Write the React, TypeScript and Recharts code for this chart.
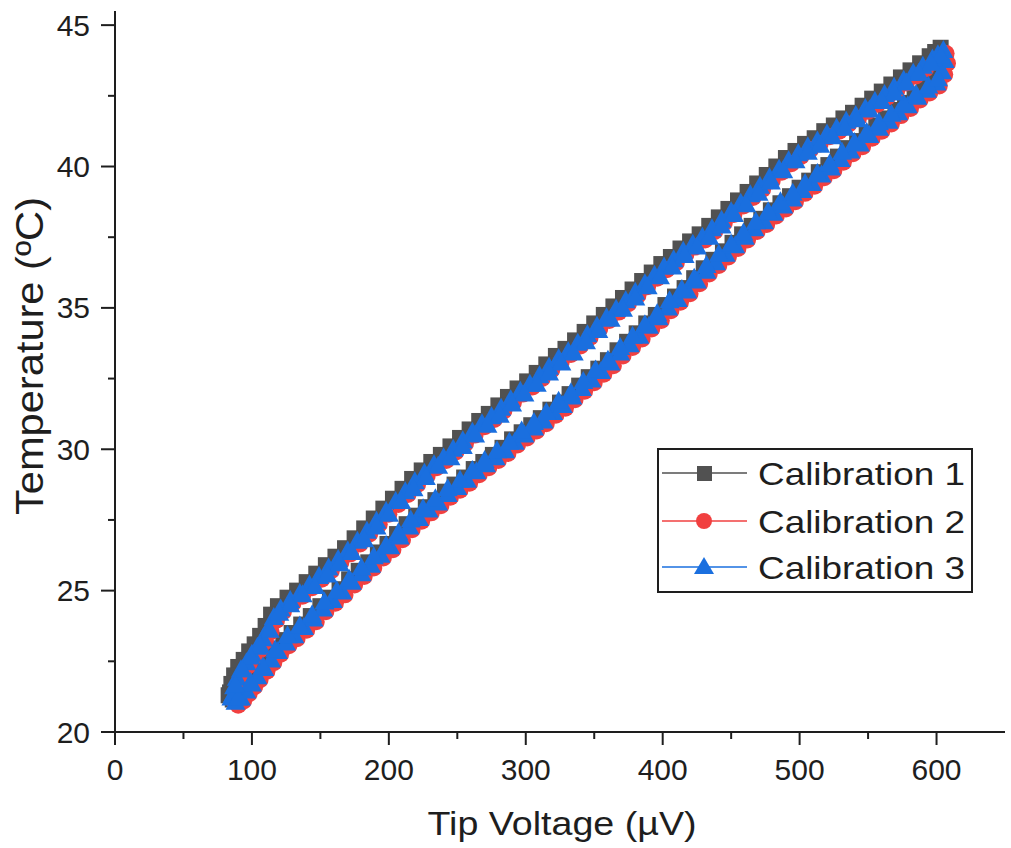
import { ScatterChart, Scatter, XAxis, YAxis, Legend } from 'recharts'

// readings as [tip voltage µV, temperature ºC], loop: heating branch up, cooling branch back down
const cal1: [number, number][] = [
  [83, 21.3], [86, 21.15], [90, 21.3], [94, 21.55], [98, 21.8], [102, 22.05], [107, 22.35], [112, 22.65], [117, 22.95], [123, 23.25],
  [129, 23.5], [136, 23.8], [143, 24.1], [150, 24.45], [157, 24.75], [164, 25.05], [171, 25.4], [178, 25.7], [185, 26.0], [192, 26.35],
  [199, 26.65], [206, 27.0], [213, 27.35], [220, 27.65], [227, 27.95], [234, 28.2], [241, 28.5], [248, 28.75], [255, 29.0], [262, 29.3],
  [269, 29.55], [276, 29.8], [283, 30.05], [290, 30.35], [297, 30.6], [304, 30.85], [311, 31.1], [318, 31.4], [325, 31.65], [332, 31.95],
  [339, 32.25], [346, 32.55], [353, 32.85], [360, 33.15], [367, 33.5], [374, 33.8], [381, 34.1], [388, 34.45], [395, 34.75], [402, 35.1],
  [409, 35.4], [416, 35.7], [423, 36.05], [430, 36.4], [437, 36.7], [444, 37.0], [451, 37.3], [458, 37.6], [465, 37.9], [472, 38.15],
  [479, 38.45], [486, 38.7], [493, 38.95], [500, 39.25], [507, 39.5], [514, 39.8], [521, 40.05], [528, 40.35], [535, 40.65], [542, 40.9],
  [549, 41.2], [556, 41.45], [563, 41.7], [570, 42.0], [577, 42.25], [584, 42.55], [591, 42.8], [598, 43.05], [602, 43.45], [604, 43.85],
  [603, 44.2], [599, 44.05], [595, 43.9], [588, 43.65], [581, 43.4], [574, 43.15], [567, 42.9], [560, 42.65], [553, 42.4], [546, 42.15],
  [539, 41.9], [532, 41.7], [525, 41.45], [518, 41.25], [511, 41.0], [504, 40.8], [497, 40.55], [490, 40.3], [483, 40.0], [476, 39.7],
  [469, 39.4], [462, 39.1], [455, 38.8], [448, 38.5], [441, 38.2], [434, 37.9], [427, 37.6], [420, 37.35], [413, 37.1], [406, 36.8],
  [399, 36.55], [392, 36.25], [385, 35.95], [378, 35.65], [371, 35.35], [364, 35.05], [357, 34.75], [350, 34.45], [343, 34.15], [336, 33.85],
  [329, 33.55], [322, 33.3], [315, 33.0], [308, 32.7], [301, 32.4], [294, 32.15], [287, 31.85], [280, 31.55], [273, 31.25], [266, 31.0],
  [259, 30.7], [252, 30.4], [245, 30.1], [238, 29.8], [231, 29.55], [224, 29.25], [217, 28.95], [210, 28.6], [203, 28.25], [196, 27.9],
  [189, 27.55], [182, 27.2], [175, 26.85], [168, 26.5], [161, 26.2], [154, 25.9], [147, 25.6], [140, 25.3], [133, 25.0], [126, 24.75],
  [119, 24.45], [114, 24.15], [110, 23.75], [106, 23.4], [102, 23.1], [98, 22.85], [94, 22.55], [90, 22.3], [87, 22.0], [85, 21.7], [84, 21.4],
]

const cal2: [number, number][] = [
  [87, 21.1], [90, 20.95], [94, 21.1], [98, 21.35], [102, 21.6], [106, 21.85], [111, 22.15], [116, 22.45], [121, 22.75], [127, 23.05],
  [133, 23.3], [140, 23.6], [147, 23.9], [154, 24.25], [161, 24.55], [168, 24.85], [175, 25.2], [182, 25.5], [189, 25.8], [196, 26.15],
  [203, 26.45], [210, 26.8], [217, 27.15], [224, 27.45], [231, 27.75], [238, 28.0], [245, 28.3], [252, 28.55], [259, 28.8], [266, 29.1],
  [273, 29.35], [280, 29.6], [287, 29.85], [294, 30.15], [301, 30.4], [308, 30.65], [315, 30.9], [322, 31.2], [329, 31.45], [336, 31.75],
  [343, 32.05], [350, 32.35], [357, 32.65], [364, 32.95], [371, 33.3], [378, 33.6], [385, 33.9], [392, 34.25], [399, 34.55], [406, 34.9],
  [413, 35.2], [420, 35.5], [427, 35.85], [434, 36.2], [441, 36.5], [448, 36.8], [455, 37.1], [462, 37.4], [469, 37.7], [476, 37.95],
  [483, 38.25], [490, 38.5], [497, 38.75], [504, 39.05], [511, 39.3], [518, 39.6], [525, 39.85], [532, 40.15], [539, 40.45], [546, 40.7],
  [553, 41.0], [560, 41.25], [567, 41.5], [574, 41.8], [581, 42.05], [588, 42.35], [595, 42.6], [602, 42.85], [606, 43.25], [608, 43.65],
  [607, 44.0], [603, 43.85], [599, 43.7], [592, 43.45], [585, 43.2], [578, 42.95], [571, 42.7], [564, 42.45], [557, 42.2], [550, 41.95],
  [543, 41.7], [536, 41.5], [529, 41.25], [522, 41.05], [515, 40.8], [508, 40.6], [501, 40.35], [494, 40.1], [487, 39.8], [480, 39.5],
  [473, 39.2], [466, 38.9], [459, 38.6], [452, 38.3], [445, 38.0], [438, 37.7], [431, 37.4], [424, 37.15], [417, 36.9], [410, 36.6],
  [403, 36.35], [396, 36.05], [389, 35.75], [382, 35.45], [375, 35.15], [368, 34.85], [361, 34.55], [354, 34.25], [347, 33.95], [340, 33.65],
  [333, 33.35], [326, 33.1], [319, 32.8], [312, 32.5], [305, 32.2], [298, 31.95], [291, 31.65], [284, 31.35], [277, 31.05], [270, 30.8],
  [263, 30.5], [256, 30.2], [249, 29.9], [242, 29.6], [235, 29.35], [228, 29.05], [221, 28.75], [214, 28.4], [207, 28.05], [200, 27.7],
  [193, 27.35], [186, 27.0], [179, 26.65], [172, 26.3], [165, 26.0], [158, 25.7], [151, 25.4], [144, 25.1], [137, 24.8], [130, 24.55],
  [123, 24.25], [118, 23.95], [114, 23.55], [110, 23.2], [106, 22.9], [102, 22.65], [98, 22.35], [94, 22.1], [91, 21.8], [89, 21.5], [88, 21.2],
]

// calibration 3 ran two cycles; the second sits just inside the first
const cal3: [number, number][] = [
  [85, 21.2], [88, 21.05], [92, 21.2], [96, 21.45], [100, 21.7], [104, 21.95], [109, 22.25], [114, 22.55], [119, 22.85], [125, 23.15],
  [131, 23.4], [138, 23.7], [145, 24.0], [152, 24.35], [159, 24.65], [166, 24.95], [173, 25.3], [180, 25.6], [187, 25.9], [194, 26.25],
  [201, 26.55], [208, 26.9], [215, 27.25], [222, 27.55], [229, 27.85], [236, 28.1], [243, 28.4], [250, 28.65], [257, 28.9], [264, 29.2],
  [271, 29.45], [278, 29.7], [285, 29.95], [292, 30.25], [299, 30.5], [306, 30.75], [313, 31.0], [320, 31.3], [327, 31.55], [334, 31.85],
  [341, 32.15], [348, 32.45], [355, 32.75], [362, 33.05], [369, 33.4], [376, 33.7], [383, 34.0], [390, 34.35], [397, 34.65], [404, 35.0],
  [411, 35.3], [418, 35.6], [425, 35.95], [432, 36.3], [439, 36.6], [446, 36.9], [453, 37.2], [460, 37.5], [467, 37.8], [474, 38.05],
  [481, 38.35], [488, 38.6], [495, 38.85], [502, 39.15], [509, 39.4], [516, 39.7], [523, 39.95], [530, 40.25], [537, 40.55], [544, 40.8],
  [551, 41.1], [558, 41.35], [565, 41.6], [572, 41.9], [579, 42.15], [586, 42.45], [593, 42.7], [600, 42.95], [604, 43.35], [606, 43.75],
  [605, 44.1], [601, 43.95], [597, 43.8], [590, 43.55], [583, 43.3], [576, 43.05], [569, 42.8], [562, 42.55], [555, 42.3], [548, 42.05],
  [541, 41.8], [534, 41.6], [527, 41.35], [520, 41.15], [513, 40.9], [506, 40.7], [499, 40.45], [492, 40.2], [485, 39.9], [478, 39.6],
  [471, 39.3], [464, 39.0], [457, 38.7], [450, 38.4], [443, 38.1], [436, 37.8], [429, 37.5], [422, 37.25], [415, 37.0], [408, 36.7],
  [401, 36.45], [394, 36.15], [387, 35.85], [380, 35.55], [373, 35.25], [366, 34.95], [359, 34.65], [352, 34.35], [345, 34.05], [338, 33.75],
  [331, 33.45], [324, 33.2], [317, 32.9], [310, 32.6], [303, 32.3], [296, 32.05], [289, 31.75], [282, 31.45], [275, 31.15], [268, 30.9],
  [261, 30.6], [254, 30.3], [247, 30.0], [240, 29.7], [233, 29.45], [226, 29.15], [219, 28.85], [212, 28.5], [205, 28.15], [198, 27.8],
  [191, 27.45], [184, 27.1], [177, 26.75], [170, 26.4], [163, 26.1], [156, 25.8], [149, 25.5], [142, 25.2], [135, 24.9], [128, 24.65],
  [121, 24.35], [116, 24.05], [112, 23.65], [108, 23.3], [104, 23.0], [100, 22.75], [96, 22.45], [92, 22.2], [89, 21.9], [87, 21.6], [86, 21.3],
  [90, 21.2], [99, 21.75], [108, 22.3], [117, 22.9], [126, 23.4], [135, 23.75], [144, 24.15], [153, 24.6], [162, 25.0], [171, 25.4],
  [180, 25.8], [189, 26.2], [198, 26.6], [207, 27.05], [216, 27.5], [225, 27.9], [234, 28.25], [243, 28.6], [252, 28.9], [261, 29.25],
  [270, 29.6], [279, 29.95], [288, 30.25], [297, 30.65], [306, 30.95], [315, 31.3], [324, 31.7], [333, 32.0], [342, 32.4], [351, 32.8],
  [360, 33.15], [369, 33.6], [378, 34.0], [387, 34.4], [396, 34.8], [405, 35.25], [414, 35.65], [423, 36.05], [432, 36.5], [441, 36.9],
  [450, 37.25], [459, 37.65], [468, 38.05], [477, 38.4], [486, 38.75], [495, 39.05], [504, 39.4], [513, 39.75], [522, 40.1], [531, 40.5],
  [540, 40.85], [549, 41.2], [558, 41.55], [567, 41.85], [576, 42.2], [585, 42.55], [594, 42.85], [601, 43.1],
  [603, 43.9], [596, 43.65], [587, 43.3], [578, 42.95], [569, 42.6], [560, 42.3], [551, 42.0], [542, 41.65], [533, 41.35], [524, 41.05],
  [515, 40.75], [506, 40.5], [497, 40.2], [488, 39.85], [479, 39.45], [470, 39.05], [461, 38.65], [452, 38.3], [443, 37.9], [434, 37.5],
  [425, 37.15], [416, 36.85], [407, 36.45], [398, 36.1], [389, 35.75], [380, 35.35], [371, 34.95], [362, 34.6], [353, 34.2], [344, 33.8],
  [335, 33.4], [326, 33.05], [317, 32.7], [308, 32.3], [299, 31.95], [290, 31.6], [281, 31.2], [272, 30.85], [263, 30.5], [254, 30.1],
  [245, 29.7], [236, 29.4], [227, 29.0], [218, 28.6], [209, 28.15], [200, 27.7], [191, 27.25], [182, 26.8], [173, 26.35], [164, 25.95],
  [155, 25.55], [146, 25.15], [137, 24.85], [128, 24.5], [120, 24.2], [113, 23.6], [106, 23.05], [99, 22.65], [93, 22.2], [88, 21.65],
]

const xTicks = [0, 50, 100, 150, 200, 250, 300, 350, 400, 450, 500, 550, 600]
const yTicks = [20, 22.5, 25, 27.5, 30, 32.5, 35, 37.5, 40, 42.5, 45]
const seriesNames = ['Calibration 1', 'Calibration 2', 'Calibration 3']

const FONT = '"Liberation Sans", Arial, sans-serif'
const INK = '#1e1e1e'
const GRAY = '#515151'
const RED = '#F14040'
const BLUE = '#1A6FDF'

const toRows = (pts: [number, number][]) => pts.map(([v, t]) => ({ v, t }))

function SquareDot({ cx, cy }: any) {
  return <rect x={cx - 8} y={cy - 8} width={16} height={16} fill={GRAY} />
}
function CircleDot({ cx, cy }: any) {
  return <circle cx={cx} cy={cy} r={8.5} fill={RED} />
}
function TriangleDot({ cx, cy }: any) {
  return <path d={`M${cx},${cy - 10.5}L${cx + 10},${cy + 7.5}L${cx - 10},${cy + 7.5}Z`} fill={BLUE} />
}

function XTick({ x, y, payload }: any) {
  const major = payload.value % 100 === 0
  return (
    <g>
      <line x1={x} y1={y} x2={x} y2={y + (major ? 13 : 7)} stroke={INK} strokeWidth={2} />
      {major && (
        <text x={x} y={y + 48} textAnchor="middle" fontSize={30} fontFamily={FONT} fill={INK}>
          {payload.value}
        </text>
      )}
    </g>
  )
}

function YTick({ x, y, payload }: any) {
  const major = payload.value % 5 === 0
  return (
    <g>
      <line x1={x} y1={y} x2={x - (major ? 14 : 7)} y2={y} stroke={INK} strokeWidth={2} />
      {major && (
        <text x={x - 25} y={y + 10.5} textAnchor="end" fontSize={30} fontFamily={FONT} fill={INK}>
          {payload.value}
        </text>
      )}
    </g>
  )
}

function LegendBox() {
  const rows = [
    { y: 25, color: GRAY, mark: <rect x={40} y={18} width={15} height={15} fill={GRAY} /> },
    { y: 73, color: RED, mark: <circle cx={47} cy={73} r={8} fill={RED} /> },
    { y: 119, color: BLUE, mark: <path d="M47,109L57,126L37,126Z" fill={BLUE} /> },
  ]
  return (
    <svg width={316} height={145} style={{ display: 'block' }}>
      <rect x={1} y={1} width={314} height={143} fill="#fff" stroke={INK} strokeWidth={2} />
      {rows.map((r, i) => (
        <g key={seriesNames[i]}>
          <line x1={5} x2={90} y1={r.y} y2={r.y} stroke={r.color} strokeWidth={1.5} />
          {r.mark}
          <text x={101} y={r.y + 11.5} fontSize={32} fontFamily={FONT} fill={INK} textLength={207} lengthAdjust="spacingAndGlyphs">
            {seriesNames[i]}
          </text>
        </g>
      ))}
    </svg>
  )
}

export default function App() {
  return (
    <div style={{ position: 'absolute', left: 0, top: 0, width: 1011, height: 848, background: '#fff', fontFamily: FONT }}>
      <ScatterChart width={1011} height={848} margin={{ top: 11, right: 6, bottom: 0, left: 0 }}>
        <XAxis
          type="number"
          dataKey="v"
          domain={[0, 650]}
          ticks={xTicks}
          interval={0}
          height={116}
          tickSize={0}
          tickMargin={0}
          tick={<XTick />}
          axisLine={{ stroke: INK, strokeWidth: 2 }}
          label={() => (
            <text x={562} y={835} textAnchor="middle" fontSize={34} fontFamily={FONT} fill={INK} textLength={269} lengthAdjust="spacingAndGlyphs">
              Tip Voltage (µV)
            </text>
          )}
        />
        <YAxis
          type="number"
          dataKey="t"
          domain={[20, 45.5]}
          ticks={yTicks}
          interval={0}
          width={115}
          tickSize={0}
          tickMargin={0}
          tick={<YTick />}
          axisLine={{ stroke: INK, strokeWidth: 2 }}
          label={() => (
            <text x={43} y={356} transform="rotate(-90, 43, 356)" textAnchor="middle" fontSize={38} fontFamily={FONT} fill={INK} textLength={318} lengthAdjust="spacingAndGlyphs">
              Temperature (ºC)
            </text>
          )}
        />
        <Legend
          verticalAlign="middle"
          align="center"
          layout="horizontal"
          content={() => <LegendBox />}
          wrapperStyle={{ left: 657, top: 448, width: 316, height: 145 }}
        />
        <Scatter name={seriesNames[0]} data={toRows(cal1)} line={{ stroke: GRAY, strokeWidth: 1 }} shape={<SquareDot />} isAnimationActive={false} />
        <Scatter name={seriesNames[1]} data={toRows(cal2)} line={{ stroke: RED, strokeWidth: 1 }} shape={<CircleDot />} isAnimationActive={false} />
        <Scatter name={seriesNames[2]} data={toRows(cal3)} line={{ stroke: BLUE, strokeWidth: 1 }} shape={<TriangleDot />} isAnimationActive={false} />
      </ScatterChart>
    </div>
  )
}
